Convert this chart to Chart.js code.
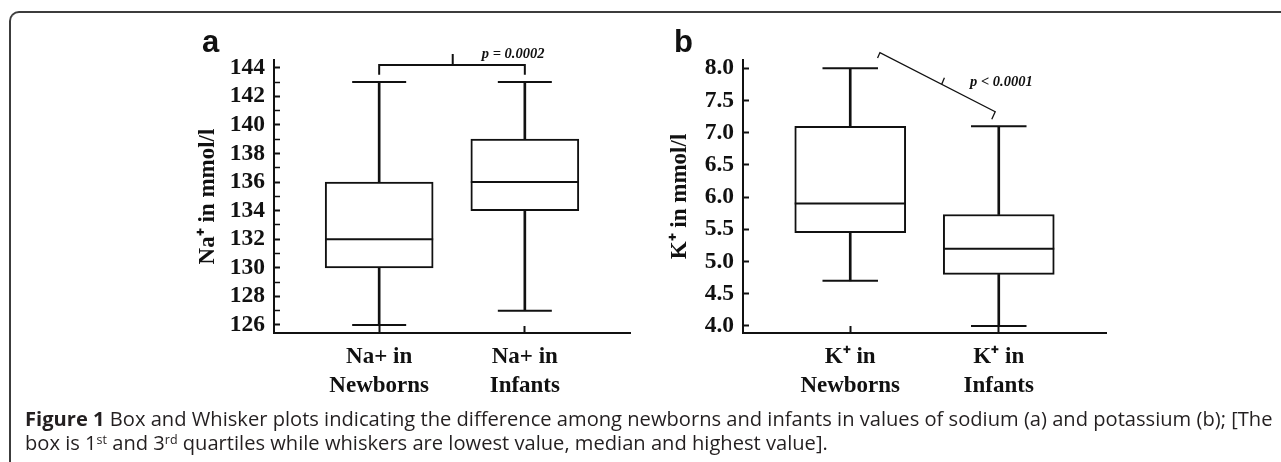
<!DOCTYPE html>
<html>
<head>
<meta charset="utf-8">
<script src="https://cdn.jsdelivr.net/npm/chart.js@4.4.1/dist/chart.umd.min.js"></script>
<style>
  html, body { margin: 0; padding: 0; background: #fff; }
  body { width: 1281px; height: 462px; position: relative; overflow: hidden; }
  #frame {
    position: absolute; left: 9px; top: 11px; width: 1300px; height: 500px;
    border-top: 2px solid #3c3c3c; border-left: 2px solid #3c3c3c;
    border-top-left-radius: 10px;
  }
  canvas { position: absolute; }
  #chartA { left: 180px; top: 20px; }
  #chartB { left: 650px; top: 20px; }
  .panel {
    position: absolute; top: 26px; color: #111;
    font: bold 31px "Liberation Sans", Arial, sans-serif; line-height: 31px;
  }
  .caption {
    position: absolute; left: 25px; color: #231f20; white-space: nowrap;
    font-family: "Open Sans", "Noto Sans", sans-serif; font-size: 16px; line-height: 24px;
  }
  .caption sup { font-size: 0.62em; vertical-align: 0; position: relative; top: -0.5em; line-height: 0; }
</style>
</head>
<body>
<div id="frame"></div>
<canvas id="chartA" width="460" height="385"></canvas>
<canvas id="chartB" width="470" height="385"></canvas>
<div class="panel" style="left:202px">a</div>
<div class="panel" style="left:674px">b</div>
<div class="caption" id="cap1" style="top:406px"><b>Figure 1</b> Box and Whisker plots indicating the difference among newborns and infants in values of sodium (a) and potassium (b); [The</div>
<div class="caption" id="cap2" style="top:430px">box is 1<sup>st</sup> and 3<sup>rd</sup> quartiles while whiskers are lowest value, median and highest value].</div>

<script>
// categories
const naCategories = [['Na+ in', 'Newborns'], ['Na+ in', 'Infants']];
const kCategories = [['K\u207A in', 'Newborns'], ['K\u207A in', 'Infants']];

// sodium (panel a), mmol/l
const naMin = [126, 127];
const naQ1 = [130, 134];
const naMedian = [132, 136];
const naQ3 = [136, 139];
const naMax = [143, 143];

// potassium (panel b), mmol/l
const kMin = [4.7, 4.0];
const kQ1 = [5.45, 4.8];
const kMedian = [5.9, 5.2];
const kQ3 = [7.1, 5.73];
const kMax = [8.0, 7.1];

// axis ticks
const naTicks = [126, 127, 128, 129, 130, 131, 132, 133, 134, 135, 136, 137, 138, 139, 140, 141, 142, 143, 144];
const naTickLabels = ['126', '128', '130', '132', '134', '136', '138', '140', '142', '144'];
const kTicks = [4.0, 4.5, 5.0, 5.5, 6.0, 6.5, 7.0, 7.5, 8.0];
const kTickLabels = ['4.0', '4.5', '5.0', '5.5', '6.0', '6.5', '7.0', '7.5', '8.0'];

// significance brackets (x = group position, y = value)
const naBracketX = [1, 1, 2, 2];
const naBracketY = [143.5, 144.19, 144.19, 143.5];
const naBracketTickX = [1.505, 1.505];
const naBracketTickY = [144.19, 144.96];
const naPValue = 'p = 0.0002';
const naPValueAt = [1.705, 144.96];

const kBracketX = [1.184, 1.2, 1.976, 1.953];
const kBracketY = [8.16, 8.245, 7.326, 7.21];
const kBracketTickX = [1.616, 1.634];
const kBracketTickY = [7.752, 7.853];
const kPValue = 'p < 0.0001';
const kPValueAt = [1.807, 7.79];

const ink = '#111';
const serif = '"Liberation Serif", "Times New Roman", serif';

const toPoints = (xs, ys) => xs.map((x, i) => ({x: x, y: ys[i]}));

// draws the p-value text next to the bracket
const pValuePlugin = {
    id: 'pValue',
    afterDraw(chart, args, opts) {
        const {ctx, scales} = chart;
        ctx.save();
        ctx.font = 'italic bold 14.5px ' + serif;
        ctx.fillStyle = ink;
        ctx.textAlign = 'left';
        ctx.textBaseline = 'middle';
        ctx.fillText(opts.text, scales.x.getPixelForValue(opts.at[0]), scales.y.getPixelForValue(opts.at[1]));
        ctx.restore();
    }
};

function boxChart(id, d) {
    const pos = d.median.map((v, i) => i + 1);
    const datasets = [
        {
            type: 'scatter', label: 'median',
            data: toPoints(pos, d.median),
            pointStyle: 'line', pointRadius: d.boxWidth / 2,
            pointBorderWidth: 2, pointBorderColor: ink, order: 0
        },
        {
            type: 'scatter', label: 'caps',
            data: toPoints(pos, d.max).concat(toPoints(pos, d.min)),
            pointStyle: 'line', pointRadius: d.boxWidth / 4,
            pointBorderWidth: 2, pointBorderColor: ink, order: 0
        },
        {
            type: 'bar', label: 'box',
            data: pos.map((x, i) => ({x: x, y: [d.q1[i], d.q3[i]]})),
            backgroundColor: '#fff', borderColor: ink, borderWidth: 2,
            borderSkipped: false, barThickness: d.boxWidth, grouped: false, order: 1
        },
        {
            type: 'bar', label: 'upper whisker',
            data: pos.map((x, i) => ({x: x, y: [d.q3[i], d.max[i]]})),
            backgroundColor: ink, borderWidth: 0, barThickness: 2, grouped: false, order: 2
        },
        {
            type: 'bar', label: 'lower whisker',
            data: pos.map((x, i) => ({x: x, y: [d.min[i], d.q1[i]]})),
            backgroundColor: ink, borderWidth: 0, barThickness: 2, grouped: false, order: 2
        },
        {
            type: 'line', label: 'bracket',
            data: toPoints(d.bracketX, d.bracketY),
            borderColor: ink, borderWidth: d.bracketWidth, pointRadius: 0,
            tension: 0, fill: false, clip: false, order: 0
        },
        {
            type: 'line', label: 'bracket tick',
            data: toPoints(d.bracketTickX, d.bracketTickY),
            borderColor: ink, borderWidth: d.bracketWidth, pointRadius: 0,
            tension: 0, fill: false, clip: false, order: 0
        }
    ];

    return new Chart(document.getElementById(id), {
        type: 'bar',
        data: {datasets: datasets},
        plugins: [pValuePlugin],
        options: {
            responsive: false,
            animation: false,
            events: [],
            // the wide "line" points would otherwise push the plot area inwards
            layout: {autoPadding: false, padding: {top: 40, right: d.rightPad, left: 0, bottom: 0}},
            plugins: {
                legend: {display: false},
                tooltip: {enabled: false},
                pValue: {text: d.pText, at: d.pAt}
            },
            scales: {
                x: {
                    type: 'linear', min: 0.278, max: 2.722, offset: false,
                    afterBuildTicks: s => { s.ticks = pos.map(v => ({value: v})); },
                    afterFit: s => { s.height = 72; s.paddingLeft = 0; s.paddingRight = 0; },
                    ticks: {
                        autoSkip: false, maxRotation: 0, padding: 16.5, color: ink,
                        font: {family: serif, size: 23, weight: 'bold', lineHeight: 1.26},
                        callback: (v, i) => d.categories[i]
                    },
                    grid: {drawOnChartArea: false, offset: false, tickLength: -7, tickWidth: 2, tickColor: ink},
                    border: {color: ink, width: 2}
                },
                y: {
                    min: d.yMin, max: d.yMax,
                    afterBuildTicks: s => { s.ticks = d.ticks.map(v => ({value: v})); },
                    afterFit: s => { s.width = d.yWidth; s.paddingTop = 0; s.paddingBottom = 0; },
                    ticks: {
                        autoSkip: false, padding: 15, color: ink,
                        font: {family: serif, size: 23.5, weight: 'bold'},
                        callback: v => d.tickLabels.find(t => Number(t) === v) || ''
                    },
                    grid: {
                        drawOnChartArea: false, tickLength: -6, tickColor: ink,
                        tickWidth: c => (c.tick && d.tickLabels.some(t => Number(t) === c.tick.value)) ? 2 : 1.5
                    },
                    border: {color: ink, width: 2},
                    title: {
                        display: true, text: d.title, color: ink,
                        font: {family: serif, size: 23, weight: 'bold'},
                        padding: {top: d.titlePad, bottom: 0}
                    }
                }
            }
        }
    });
}

boxChart('chartA', {
    categories: naCategories,
    min: naMin, q1: naQ1, median: naMedian, q3: naQ3, max: naMax,
    ticks: naTicks, tickLabels: naTickLabels,
    bracketX: naBracketX, bracketY: naBracketY,
    bracketTickX: naBracketTickX, bracketTickY: naBracketTickY,
    pText: naPValue, pAt: naPValueAt,
    title: 'Na\u207A in mmol/l',
    yMin: 125.44, yMax: 144.54,
    boxWidth: 108, bracketWidth: 2, yWidth: 94, rightPad: 10, titlePad: 14
});

boxChart('chartB', {
    categories: kCategories,
    min: kMin, q1: kQ1, median: kMedian, q3: kQ3, max: kMax,
    ticks: kTicks, tickLabels: kTickLabels,
    bracketX: kBracketX, bracketY: kBracketY,
    bracketTickX: kBracketTickX, bracketTickY: kBracketTickY,
    pText: kPValue, pAt: kPValueAt,
    title: 'K\u207A in mmol/l',
    yMin: 3.89, yMax: 8.13,
    boxWidth: 111, bracketWidth: 1.3, yWidth: 93, rightPad: 14, titlePad: 16
});

// stretch the caption font so the first line spans the frame like the original
const cap1 = document.getElementById('cap1');
const cap2 = document.getElementById('cap2');
const fit = 16 * 1248 / cap1.getBoundingClientRect().width;
cap1.style.fontSize = fit + 'px';
cap2.style.fontSize = fit + 'px';
</script>
</body>
</html>
